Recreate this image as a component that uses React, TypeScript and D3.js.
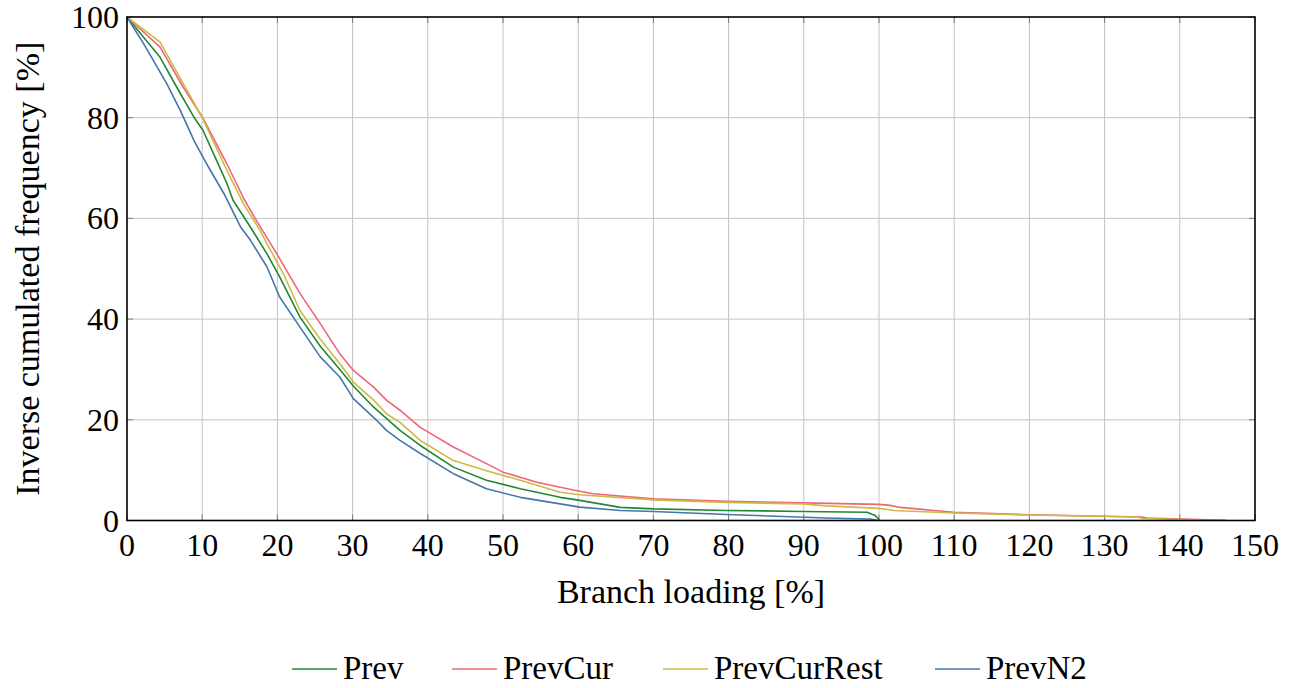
import React from "react";
import * as d3 from "d3";

const xTicks = [0, 10, 20, 30, 40, 50, 60, 70, 80, 90, 100, 110, 120, 130, 140, 150];
const yTicks = [0, 20, 40, 60, 80, 100];

const prevX = [0, 2.2, 4.4, 6.6, 8.9, 10.1, 13.3, 14.1, 16.4, 18.6, 20.3, 23.0, 25.7, 28.3, 30.1, 32.8, 36.3, 39.0, 43.4, 47.8, 52.3, 57.6, 60.2, 65.6, 70, 79.7, 89.9, 98.4, 99.5, 100.1];
const prevY = [100, 96, 92, 86.1, 80.1, 77.5, 66.9, 63.6, 58.3, 53.0, 48.4, 40.4, 34.6, 30.0, 26.7, 22.5, 17.9, 14.9, 10.6, 8.0, 6.3, 4.6, 4.0, 2.6, 2.3, 2.0, 1.8, 1.65, 1.0, 0];

const prevCurX = [0, 4.4, 7.5, 10.07, 13.3, 15.5, 17.2, 19.9, 23, 25.7, 28.3, 30.1, 32.8, 34.5, 36.3, 39, 43.4, 47.8, 50, 54.5, 57.6, 60.2, 62, 70, 79.7, 89.9, 100, 101.5, 102.8, 109.9, 120.1, 135, 135.6, 146.2];
const prevCurY = [100, 94, 86, 80, 70.8, 64, 59.6, 53, 45.1, 39.1, 33.1, 29.8, 26.5, 23.9, 21.9, 18.5, 14.6, 11.3, 9.6, 7.6, 6.6, 5.8, 5.3, 4.3, 3.8, 3.5, 3.2, 3.0, 2.6, 1.65, 1.13, 0.7, 0.5, 0.05];

const prevCurRestX = [0, 4.4, 10, 13.3, 15.5, 17.7, 18.6, 20.8, 23, 25.7, 28.3, 30.1, 32.8, 34.5, 36.3, 39, 43.4, 47.8, 52.3, 57.6, 60.2, 70, 79.7, 89.9, 93, 100, 102, 110, 120, 134.3, 135.1, 145.2];
const prevCurRestY = [100, 95, 80, 69.5, 62.9, 57.6, 55, 49, 41.7, 36, 31.2, 27.5, 23.9, 21.2, 19.5, 15.9, 11.9, 9.9, 8.0, 5.6, 5.1, 4.1, 3.6, 3.3, 2.9, 2.4, 2.0, 1.5, 1.1, 0.7, 0.4, 0.0];

const prevN2X = [0, 2.2, 3.5, 5.3, 7.1, 8.9, 10.6, 12.9, 15.1, 16.4, 18.6, 20.3, 23, 25.7, 28.3, 30.1, 33.2, 34.5, 36.3, 39, 43.4, 47.8, 52.3, 57.6, 60.2, 65.6, 70, 79.7, 93, 98.8, 99.9];
const prevN2Y = [100, 94.7, 91.4, 86.7, 81.4, 75.5, 70.8, 64.9, 58.3, 55.7, 50.4, 44.4, 38.4, 32.5, 28.5, 24.2, 19.9, 17.9, 15.9, 13.3, 9.3, 6.3, 4.6, 3.3, 2.65, 2.0, 1.8, 1.2, 0.5, 0.3, 0];

const seriesNames = ["Prev", "PrevCur", "PrevCurRest", "PrevN2"];
const seriesColors = ["#228833", "#EE6677", "#CCBB44", "#4477AA"];
const seriesXs = [prevX, prevCurX, prevCurRestX, prevN2X];
const seriesYs = [prevY, prevCurY, prevCurRestY, prevN2Y];

const legendLineX = [292, 452, 663, 935];

export default function App() {
  const W = 1290, H = 688;
  const left = 127, right = 1255, top = 17, bottom = 520.5;
  const x = d3.scaleLinear().domain([0, 150]).range([left, right]);
  const y = d3.scaleLinear().domain([0, 100]).range([bottom, top]);
  const font = "'Liberation Serif', 'Times New Roman', serif";
  const line = d3.line<[number, number]>().x((d) => x(d[0])).y((d) => y(d[1]));

  return (
    <svg width={W} height={H} style={{ position: "absolute", left: 0, top: 0, background: "#fff" }}>
      <rect x={0} y={0} width={W} height={H} fill="#fff" />
      {xTicks.slice(1, -1).map((t) => (
        <line key={"gx" + t} x1={x(t)} x2={x(t)} y1={top} y2={bottom} stroke="#c4c4c4" strokeWidth={1} />
      ))}
      {yTicks.slice(1, -1).map((t) => (
        <line key={"gy" + t} x1={left} x2={right} y1={y(t)} y2={y(t)} stroke="#c4c4c4" strokeWidth={1} />
      ))}
      {xTicks.map((t) => (
        <g key={"tx" + t}>
          <line x1={x(t)} x2={x(t)} y1={bottom} y2={bottom - 6} stroke="#7a7a7a" strokeWidth={1} />
          <line x1={x(t)} x2={x(t)} y1={top} y2={top + 6} stroke="#7a7a7a" strokeWidth={1} />
        </g>
      ))}
      {yTicks.map((t) => (
        <g key={"ty" + t}>
          <line x1={left} x2={left + 6} y1={y(t)} y2={y(t)} stroke="#7a7a7a" strokeWidth={1} />
          <line x1={right} x2={right - 6} y1={y(t)} y2={y(t)} stroke="#7a7a7a" strokeWidth={1} />
        </g>
      ))}
      {seriesNames.map((n, i) => {
        const pts = seriesXs[i].map((v, j) => [v, seriesYs[i][j]] as [number, number]);
        return <path key={n} d={line(pts) || ""} fill="none" stroke={seriesColors[i]} strokeWidth={1.6} strokeLinejoin="round" />;
      })}
      <rect x={left} y={top} width={right - left} height={bottom - top} fill="none" stroke="#000" strokeWidth={1.6} />
      {xTicks.map((t) => (
        <text key={"lx" + t} x={x(t)} y={556} textAnchor="middle" fontFamily={font} fontSize={32} fill="#000">
          {t}
        </text>
      ))}
      {yTicks.map((t) => (
        <text key={"ly" + t} x={119} y={y(t) + 11} textAnchor="end" fontFamily={font} fontSize={32} fill="#000">
          {t}
        </text>
      ))}
      <text x={(left + right) / 2} y={603} textAnchor="middle" fontFamily={font} fontSize={34} fill="#000">
        Branch loading [%]
      </text>
      <text
        transform={`translate(39, ${(top + bottom) / 2}) rotate(-90)`}
        textAnchor="middle"
        fontFamily={font}
        fontSize={34}
        fill="#000"
      >
        Inverse cumulated frequency [%]
      </text>
      {seriesNames.map((n, i) => (
        <g key={"lg" + n}>
          <line x1={legendLineX[i]} x2={legendLineX[i] + 45} y1={669} y2={669} stroke={seriesColors[i]} strokeWidth={1.6} />
          <text x={legendLineX[i] + 51} y={679} fontFamily={font} fontSize={33} fill="#000">
            {n}
          </text>
        </g>
      ))}
    </svg>
  );
}
